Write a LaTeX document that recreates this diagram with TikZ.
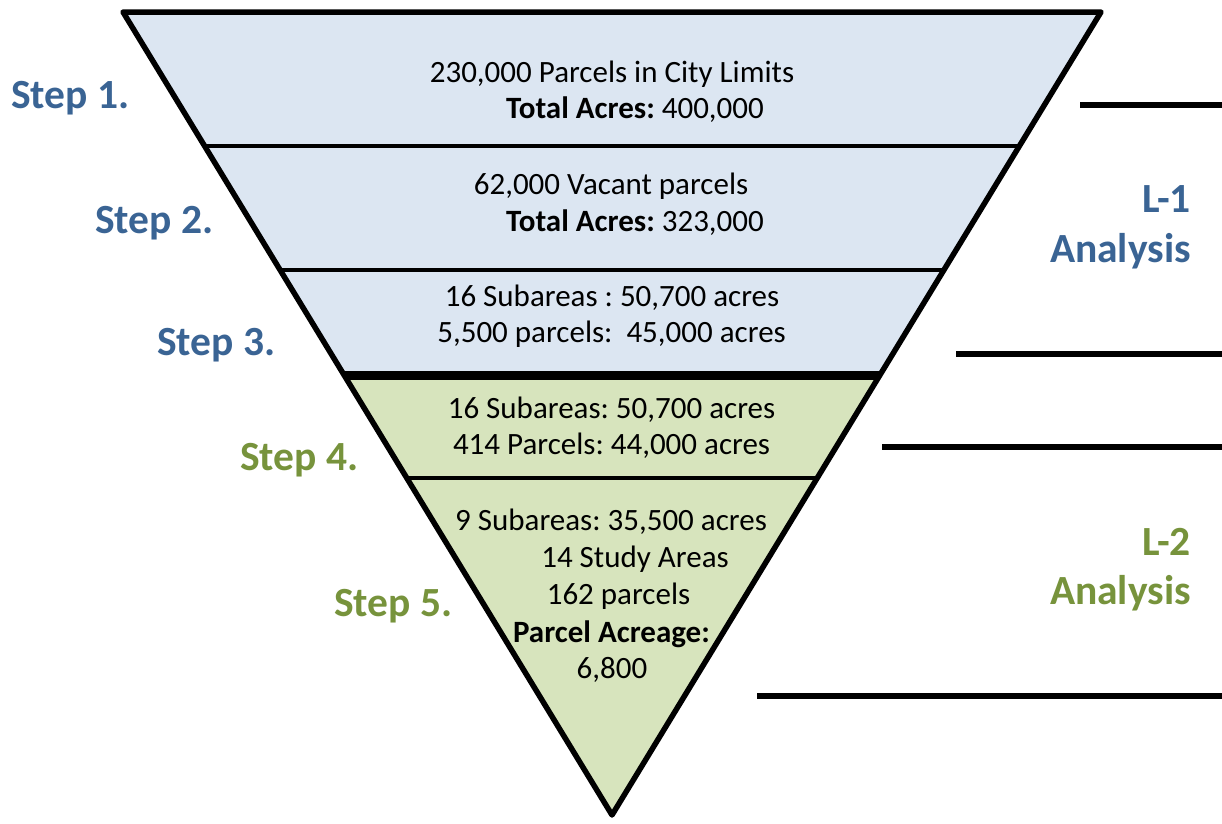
\documentclass[tikz,border=0pt]{standalone}
\usepackage{fontspec}
\setmainfont{Carlito}
\usetikzlibrary{calc}
\frenchspacing
\definecolor{funnelblue}{HTML}{DCE6F2}
\definecolor{funnelgreen}{HTML}{D7E4BD}
\definecolor{stepblue}{HTML}{3A6494}
\definecolor{stepgreen}{HTML}{77933C}
\tikzset{
  info/.style={
    anchor=base, inner sep=0pt, text=black,
    font=\fontsize{31}{37}\selectfont
  },
  stepB/.style={
    anchor=base west, inner sep=0pt, text=stepblue,
    font=\fontsize{41.5}{50}\selectfont\bfseries
  },
  stepG/.style={
    stepB, text=stepgreen
  },
  levelB/.style={
    stepB, anchor=base east
  },
  levelG/.style={
    levelB, text=stepgreen
  },
  divider/.style={line width=3.3pt, black},
  outline/.style={line width=5.5pt, black, line join=round},
  bracket/.style={line width=6pt, black}
}

\begin{document}
\begin{tikzpicture}[x=1pt, y=-1pt]
  \useasboundingbox (0,0) rectangle (1222,823);

  % Funnel corners and band edges
  \coordinate (tl) at (123,12);
  \coordinate (tr) at (1101,12);
  \coordinate (apex) at (612,815);
  \foreach \n/\t in {b1/0.1669, b2/0.3213, b3/0.4521, b4/0.5803} {
    \coordinate (\n l) at ($(tl)!\t!(apex)$);
    \coordinate (\n r) at ($(tr)!\t!(apex)$);
  }

  % Fills: L-1 blue, L-2 green
  \fill[funnelblue] (tl) -- (tr) -- (b3r) -- (b3l) -- cycle;
  \fill[funnelgreen] (b3l) -- (b3r) -- (apex) -- cycle;

  \draw[divider] (b1l) -- (b1r);
  \draw[divider] (b2l) -- (b2r);
  \draw[divider] (b4l) -- (b4r);
  \draw[line width=9pt] (b3l) -- (b3r);
  \draw[outline] (tl) -- (tr) -- (apex) -- cycle;

  % Band texts
  \node[info] (t1a) at (612,82) {230,000 Parcels in City Limits};
  \node[info] (t1b) at (635,118) {\textbf{Total Acres:} 400,000};
  \node[info] (t2a) at (611,194) {62,000 Vacant parcels};
  \node[info] (t2b) at (635,231) {\textbf{Total Acres:} 323,000};
  \node[info] (t3a) at (612,306) {16 Subareas : 50,700 acres};
  \node[info] (t3b) at (611.5,342) {5,500 parcels:~ 45,000 acres};
  \node[info] (t4a) at (611.5,418) {16 Subareas: 50,700 acres};
  \node[info] (t4b) at (611.5,454) {414 Parcels: 44,000 acres};
  \node[info] (t5a) at (611,530) {9 Subareas: 35,500 acres};
  \node[info] (t5b) at (635,567) {14 Study Areas};
  \node[info] (t5c) at (618.5,604) {162 parcels};
  \node[info] (t5d) at (611.5,642) {\textbf{Parcel Acreage:}};
  \node[info] (t5e) at (612,678) {6,800};

  % Step labels
  \node[stepB] (s1) at (11,108) {Step 1.};
  \node[stepB] (s2) at (95,233) {Step 2.};
  \node[stepB] (s3) at (157,355) {Step 3.};
  \node[stepG] (s4) at (240,470) {Step 4.};
  \node[stepG] (s5) at (334,616) {Step 5.};

  % Analysis levels
  \coordinate (r1) at (1080,105);
  \coordinate (r2) at (956,354);
  \coordinate (r3) at (882,447);
  \coordinate (r4) at (757,696);
  \draw[bracket] (r1) -- (1222,105);
  \draw[bracket] (r2) -- (1222,354);
  \draw[bracket] (r3) -- (1222,447);
  \draw[bracket] (r4) -- (1222,696);
  \node[levelB] (l1a) at (1191,212) {L-1};
  \node[levelB] (l1b) at (1191,262) {Analysis};
  \node[levelG] (l2a) at (1191,555) {L-2};
  \node[levelG] (l2b) at (1191,604) {Analysis};
\end{tikzpicture}
\end{document}
